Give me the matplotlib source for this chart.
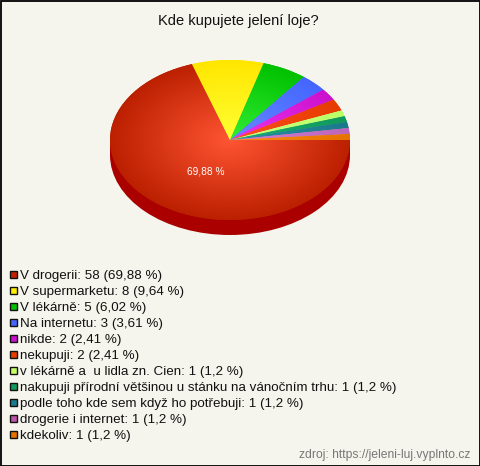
import numpy as np
import matplotlib
matplotlib.use("Agg")
import matplotlib.pyplot as plt
from matplotlib.colors import LinearSegmentedColormap
from matplotlib.patches import Rectangle, Wedge

title = "Kde kupujete jelení loje?"
source = "zdroj: https://jeleni-luj.vyplnto.cz"
labels = ["V drogerii", "V supermarketu", "V lékárně", "Na internetu", "nikde", "nekupuji",
          "v lékárně a  u lidla zn. Cien", "nakupuji přírodní většinou u stánku na vánočním trhu",
          "podle toho kde sem když ho potřebuji", "drogerie i internet", "kdekoliv"]
counts = [58, 8, 5, 3, 2, 2, 1, 1, 1, 1, 1]
percents = ["69,88", "9,64", "6,02", "3,61", "2,41", "2,41", "1,2", "1,2", "1,2", "1,2", "1,2"]
inner_colors = ["#ff5533", "#ffff33", "#33ee33", "#6688ff", "#ee33ee", "#ff4e1e",
                "#ccff88", "#1cae72", "#2a90a0", "#d480d4", "#ff8a1a"]
outer_colors = ["#bb2000", "#ffe600", "#00c000", "#4466ff", "#cc11cc", "#e63c00",
                "#bbff66", "#109a5c", "#1a7a8c", "#bb66bb", "#e67300"]
legend_colors = ["#c02000", "#ffee00", "#00c000", "#4466ff", "#cc11cc", "#e63c00",
                 "#c4ff66", "#109a5c", "#1a7a8c", "#bb55aa", "#e67300"]

W, H = 480, 466
BG = "#f5f5ed"
plt.rcParams["font.family"] = ["Liberation Sans", "DejaVu Sans"]

fig = plt.figure(figsize=(W / 100, H / 100), dpi=100, facecolor=BG)

# osa pro text a legendu, v pixelech
page = fig.add_axes([0, 0, 1, 1])
page.set_xlim(0, W)
page.set_ylim(H, 0)
page.axis("off")
page.add_patch(Rectangle((0.5, 0.5), W - 1, H - 1, fill=False, edgecolor="#000000", linewidth=1.3))

# kolac: stred 230,140 poloosy 120x80, hloubka 15
left, right, top, bottom, depth = 110, 350, 60, 220, 15
pie_ax = fig.add_axes([left / W, 1 - (bottom + depth) / H, (right - left) / W, (bottom + depth - top) / H])
extra = depth / ((bottom - top) / 2)

wedges, _ = pie_ax.pie(counts, startangle=0, counterclock=False, radius=1, colors=outer_colors)

# bocni strana kolace
pie_ax.add_patch(Wedge((0, -extra), 1, 180, 360, facecolor="#aa0000", edgecolor="none", zorder=0))
pie_ax.add_patch(Rectangle((-1, -extra), 2, extra, facecolor="#aa0000", edgecolor="none", zorder=0))

# radialni gradient v kazdem dilku
yy, xx = np.mgrid[-1:1:400j, -1:1:400j]
rr = np.clip(np.hypot(xx, yy), 0, 1)
for w, c_in, c_out in zip(wedges, inner_colors, outer_colors):
    w.set_edgecolor("none")
    cmap = LinearSegmentedColormap.from_list("g", [c_in, c_out])
    im = pie_ax.imshow(rr, cmap=cmap, vmin=0, vmax=1, extent=(-1, 1, -1, 1), origin="lower",
                       aspect="auto", zorder=2)
    im.set_clip_path(w)

pie_ax.set_aspect("auto")
pie_ax.set_xlim(-1, 1)
pie_ax.set_ylim(-1 - extra, 1)
pie_ax.axis("off")

page.set_zorder(3)
page.text(238, 20.5, title, ha="center", va="center", fontsize=10.55, color="#111111")
page.text(205.5, 171, percents[0] + " %", ha="center", va="center", fontsize=7.3, color="#ffffff")

# legenda
for i, (name, n, pct, col) in enumerate(zip(labels, counts, percents, legend_colors)):
    y = 274 + i * 16
    page.add_patch(Rectangle((9.5, y - 3.5), 7, 7, facecolor=col, edgecolor="#111111", linewidth=1))
    page.text(20, y + 1.5, f"{name}: {n} ({pct} %)", ha="left", va="center", fontsize=9.65, color="#111111")

page.text(470.5, 455, source, ha="right", va="center", fontsize=8.7, color="#777777")

fig.savefig("out.png", dpi=100, facecolor=BG)
